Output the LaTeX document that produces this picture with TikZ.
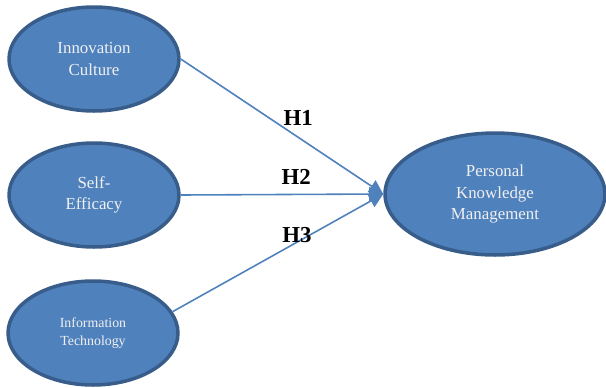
\documentclass[tikz,border=0pt]{standalone}
\usepackage{fontspec}
\setmainfont{Liberation Serif}
\usepackage{tikz}
\usetikzlibrary{shapes.geometric, arrows.meta, positioning}
\definecolor{ovalblue}{HTML}{4F81BD}
\definecolor{ovalline}{HTML}{385D8A}
\tikzstyle{construct} = [ellipse, minimum width=3.4cm, minimum height=2.08cm, inner sep=0pt, draw=ovalline, line width=2pt, fill=ovalblue, text=white!94!black, align=center, font=\fontsize{9.6}{12}\selectfont]
\tikzstyle{arrow} = [draw=ovalblue, line width=0.9pt, -{Triangle[length=8pt,width=8pt]}]
\tikzstyle{hyp} = [font=\fontsize{13}{15}\selectfont\bfseries, text=black, inner sep=2pt]

\begin{document}
\begin{tikzpicture}[x=0.02cm, y=-0.02cm]
  \useasboundingbox (0,0) rectangle (606,387);

  % Independent constructs
  \node[construct] (innov) at (94,59) {Innovation\\Culture};
  \node[construct] (selfeff) at (94,195) {Self-\\Efficacy};
  \node[construct, font=\fontsize{7.9}{10.5}\selectfont] (infotech) at (93,333) {Information\\Technology};

  % Dependent construct
  \node[construct, minimum width=4.4cm, minimum height=2.44cm] (pkm) at (495,194) {Personal\\Knowledge\\Management};

  % Hypotheses
  \draw[arrow] (innov.east) -- node[hyp, pos=0.58, above=4pt] {H1} (pkm.west);
  \draw[arrow] (selfeff.east) -- node[hyp, pos=0.57, above=3pt] {H2} (pkm.west);
  \draw[arrow] (infotech.15) -- node[hyp, pos=0.59, above=-3pt] {H3} (pkm.west);
\end{tikzpicture}
\end{document}
